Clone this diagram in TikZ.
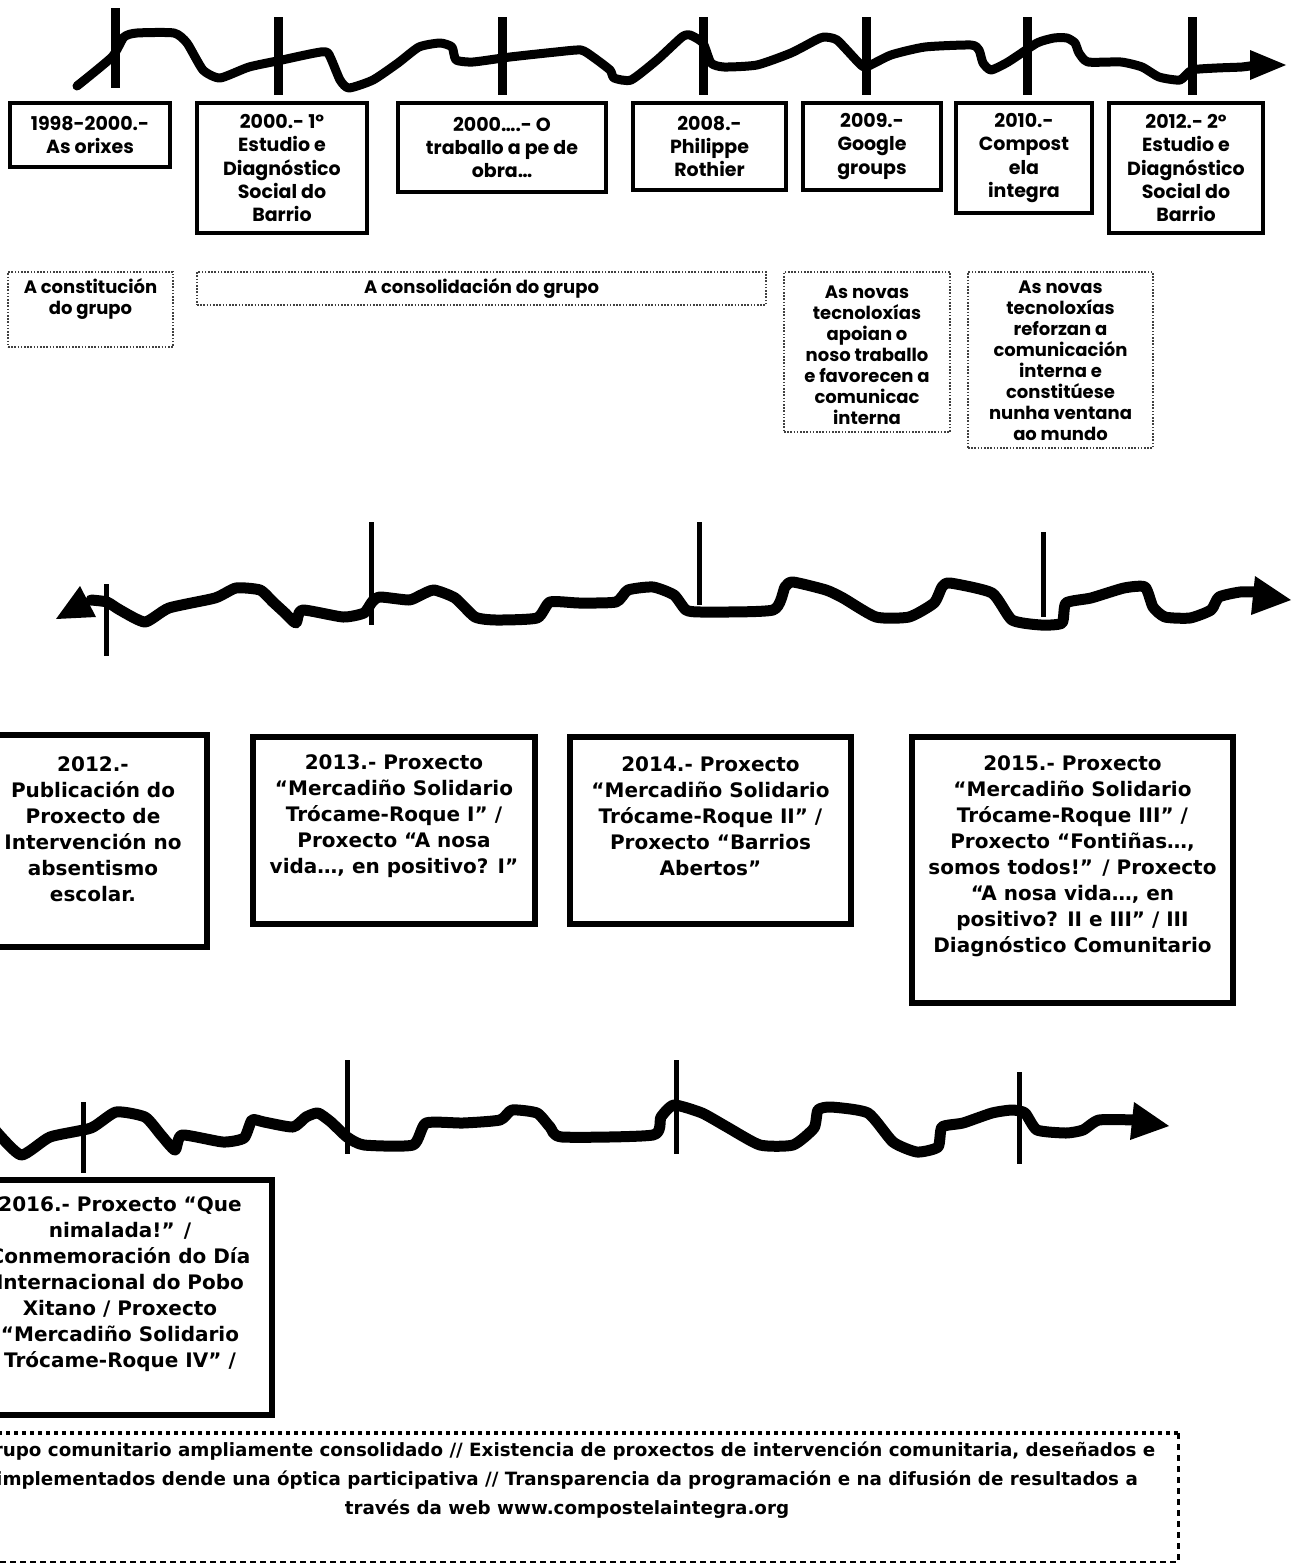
\documentclass[tikz,border=0pt]{standalone}
\usepackage{fontspec}
\setmainfont{DejaVu Sans}
\newfontfamily\gothic{Poppins}
\begin{document}
\begin{tikzpicture}[x=1pt,y=-1pt,
  tl/.style={line width=9pt, line join=round, line cap=round},
  tickA/.style={line width=9pt},
  tickB/.style={line width=5pt},
  topbox/.style={draw, line width=4.5pt, inner sep=0pt},
  topfont/.style={font=\gothic\bfseries\fontsize{19}{23.3}\selectfont, align=center, inner sep=0pt},
  dotbox/.style={draw=black!75, line width=1.6pt, dash pattern=on 1.6pt off 1.6pt, inner sep=0pt},
  dotfont/.style={font=\gothic\bfseries\fontsize{18}{21}\selectfont, align=center, inner sep=0pt},
  midbox/.style={draw, line width=6pt, inner sep=0pt},
  midfont/.style={font=\bfseries\fontsize{20}{26}\selectfont, align=center, inner sep=0pt},
  endfont/.style={font=\bfseries\fontsize{18.3}{29}\selectfont, align=center, inner sep=0pt},
]
\useasboundingbox (0,0) rectangle (1296,1564);

% ---------- top timeline ----------
\draw[tl] plot[smooth, tension=0.35] coordinates {(77,86) (112,57) (124,37) (137,33) (174,33) (187,43) (203,70) (220,78) (249,67) (282,60) (315,53) (328,53) (340,80) (349,88) (373,80) (398,63) (419,47) (440,43) (452,47) (456,60) (473,62) (510,57) (556,52) (581,50) (593,57) (610,70) (614,78) (631,80) (657,60) (682,37) (690,35) (703,43) (711,63) (724,67) (757,65) (791,53) (816,40) (824,37) (837,40) (858,62) (866,67) (891,55) (925,47) (971,45) (979,50) (983,63) (991,70) (1008,62) (1037,43) (1054,38) (1067,38) (1075,43) (1079,53) (1088,62) (1121,62) (1142,67) (1159,77) (1180,80) (1192,70) (1217,68) (1242,67) (1256,65)};
\fill (1250,50) -- (1286,65) -- (1250,80) -- cycle;
\foreach \x/\a/\b in {115/8/88, 278/17/95, 502/17/95, 703/17/95, 866/17/95, 1027/17/95, 1192/17/95}
  \draw[tickA] (\x,\a) -- (\x,\b);

% ---------- top boxes ----------
\node[topbox, minimum width=160pt, minimum height=64pt] (b1) at (90,135) {};
\node[topfont] (t1) at (b1.center) {1998-2000.-\\As orixes};
\node[topbox, minimum width=170pt, minimum height=130pt] (b2) at (282,168) {};
\node[topfont] (t2) at (b2.center) {2000.- 1º\\Estudio e\\Diagnóstico\\Social do\\Barrio};
\node[topbox, minimum width=208pt, minimum height=89pt] (b3) at (502,147.5) {};
\node[topfont] (t3) at (b3.center) {2000….- O\\traballo a pe de\\obra…};
\node[topbox, minimum width=153pt, minimum height=87pt] (b4) at (709.5,146.5) {};
\node[topfont] (t4) at (b4.center) {2008.-\\Philippe\\Rothier};
\node[topbox, minimum width=138pt, minimum height=87pt] (b5) at (872,146.5) {};
\node[topfont] (t5) at (b5.center) {2009.-\\Google\\groups};
\node[topbox, minimum width=136pt, minimum height=110pt] (b6) at (1024,158) {};
\node[topfont] (t6) at (b6.center) {2010.-\\Compost\\ela\\integra};
\node[topbox, minimum width=154pt, minimum height=130pt] (b7) at (1186,168) {};
\node[topfont] (t7) at (b7.center) {2012.- 2º\\Estudio e\\Diagnóstico\\Social do\\Barrio};

% ---------- dotted phase boxes ----------
\node[dotbox, minimum width=165pt, minimum height=75pt] (dA) at (90.5,309.5) {};
\node[dotfont] (tA) at (90.5,299) {A constitución\\do grupo};
\node[dotbox, minimum width=569pt, minimum height=33pt] (dB) at (481.5,288.5) {};
\node[dotfont] (tB) at (481.5,288) {A consolidación do grupo};
\node[dotbox, minimum width=166pt, minimum height=160pt] (dC) at (867,352) {};
\node[dotfont] (tC) at (867,355) {As novas\\tecnoloxías\\apoian o\\noso traballo\\e favorecen a\\comunicac\\interna};
\node[dotbox, minimum width=185pt, minimum height=176pt] (dD) at (1060.5,360) {};
\node[dotfont] (tD) at (1060.5,361) {As novas\\tecnoloxías\\reforzan a\\comunicación\\interna e\\constitúese\\nunha ventana\\ao mundo};

% ---------- middle timeline ----------
\draw[tl, line width=11pt] plot[smooth, tension=0.35] coordinates {(91,600) (107,602) (120,610) (145,622) (169,608) (215,598) (236,588) (260,590) (273,602) (285,613) (296,623) (302,610) (343,617) (364,613) (372,602) (380,597) (409,600) (421,595) (434,590) (455,598) (475,617) (496,620) (537,618) (550,602) (579,603) (616,602) (628,590) (653,587) (674,595) (686,610) (702,612) (773,610) (785,587) (793,582) (826,590) (843,598) (876,617) (909,617) (934,603) (942,587) (950,583) (992,593) (1012,620) (1041,625) (1062,623) (1066,603) (1091,598) (1124,588) (1145,587) (1153,607) (1165,617) (1190,618) (1211,610) (1219,597) (1240,592) (1258,592)};
\fill (1255,576) -- (1291,600) -- (1251,615) -- cycle;
\fill (80,586) -- (56,619) -- (96,617) -- cycle;
\foreach \x/\a/\b in {106/584/656, 371/522/625, 699/522/605, 1043/532/617}
  \draw[tickB] (\x,\a) -- (\x,\b);

% ---------- middle boxes ----------
\node[midbox, minimum width=236pt, minimum height=212pt] (m1) at (89,841) {};
\node[midfont] (u1) at (93,829) {2012.-\\Publicación do\\Proxecto de\\Intervención no\\absentismo\\escolar.};
\node[midbox, minimum width=282pt, minimum height=187pt] (m2) at (394,830.5) {};
\node[midfont] (u2) at (394,816) {2013.- Proxecto\\“Mercadiño Solidario\\Trócame-Roque I” /\\Proxecto “A nosa\\vida…, en positivo? I”};
\node[midbox, minimum width=281pt, minimum height=187pt] (m3) at (710.5,830.5) {};
\node[midfont] (u3) at (710.5,816) {2014.- Proxecto\\“Mercadiño Solidario\\Trócame-Roque II” /\\Proxecto “Barrios\\Abertos”};
\node[midbox, minimum width=321pt, minimum height=266pt] (m4) at (1072.5,870) {};
\node[midfont] (u4) at (1072.5,856.5) {2015.- Proxecto\\“Mercadiño Solidario\\Trócame-Roque III” /\\Proxecto “Fontiñas…,\\somos todos!” / Proxecto\\“A nosa vida…, en\\positivo? II e III” / III\\Diagnóstico Comunitario};

% ---------- bottom timeline ----------
\draw[tl, line width=11pt] plot[smooth, tension=0.35] coordinates {(-5,1130) (21,1155) (50,1137) (91,1128) (116,1112) (145,1117) (161,1135) (175,1150) (182,1135) (223,1142) (244,1138) (252,1120) (264,1122) (293,1127) (306,1117) (318,1113) (331,1122) (347,1137) (364,1145) (413,1145) (426,1123) (463,1123) (500,1120) (512,1110) (537,1113) (550,1127) (562,1137) (653,1135) (661,1117) (674,1105) (702,1113) (727,1127) (760,1145) (793,1145) (814,1128) (818,1110) (831,1107) (868,1113) (893,1142) (917,1152) (938,1147) (942,1127) (963,1123) (992,1113) (1012,1110) (1025,1113) (1037,1130) (1066,1133) (1083,1130) (1099,1120) (1136,1120)};
\fill (1134,1102) -- (1169,1126) -- (1130,1140) -- cycle;
\foreach \x/\a/\b in {83/1102/1173, 347/1060/1154, 676/1060/1154, 1019/1072/1164}
  \draw[tickB] (\x,\a) -- (\x,\b);

% ---------- 2016 box ----------
\node[midbox, minimum width=312pt, minimum height=235pt] (m5) at (116,1297.5) {};
\node[midfont] (u5) at (120,1284) {2016.- Proxecto “Que\\nimalada!” /\\Conmemoración do Día\\Internacional do Pobo\\Xitano / Proxecto\\“Mercadiño Solidario\\Trócame-Roque IV” /};

% ---------- final dotted box ----------
\coordinate (fl) at (-10,1433);
\coordinate (fr) at (1178,1433);
\coordinate (br) at (1178,1562);
\coordinate (bl) at (-10,1562);
\draw[line width=4pt, dash pattern=on 4pt off 4pt] (fl) -- (fr);
\draw[line width=3pt, dash pattern=on 6pt off 5pt] (fr) -- (br);
\draw[line width=2pt, dash pattern=on 6pt off 4pt] (bl) -- (br);
\node[endfont] (fin) at (567,1480) {Grupo comunitario ampliamente consolidado // Existencia de proxectos de intervención comunitaria, deseñados e\\implementados dende una óptica participativa // Transparencia da programación e na difusión de resultados a\\través da web www.compostelaintegra.org};
\end{tikzpicture}
\end{document}
